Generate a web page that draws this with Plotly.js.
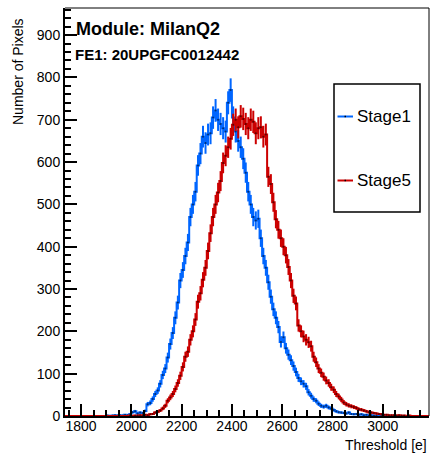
<!DOCTYPE html>
<html>
<head>
<meta charset="utf-8">
<script src="https://cdn.plot.ly/plotly-3.0.1.min.js"></script>
<style>
  html, body { margin: 0; padding: 0; background: #fff; }
  #chart { width: 434px; height: 455px; }
</style>
</head>
<body>
<div id="chart"></div>
<script>
// ---- Data ----
const binWidth = 10;               // histogram bin width [e]
const histLow = 1735;              // first bin centre drawn (zero content)
const histHigh = 3185;             // last bin centre drawn (zero content)

const seriesNames = ["Stage1", "Stage5"];
const seriesColors = ["#0066ff", "#cc0000"];

// Stage1: bin centres starting at 1905, step 10
const stage1Start = 1905;
const stage1 = [
  1, 0, 1, 2, 1, 2, 1, 3, 2, 4,
  9, 11, 6, 8, 7, 12, 28, 31, 40, 52,
  60, 76, 97, 112, 138, 170, 196, 232, 268, 320,
  345, 378, 410, 470, 500, 530, 592, 620, 660, 645,
  665, 668, 705, 722, 700, 690, 680, 672, 740, 770,
  705, 672, 650, 635, 608, 575, 530, 500, 470, 462,
  466, 420, 378, 350, 316, 282, 252, 232, 210, 175,
  186, 160, 145, 132, 118, 104, 90, 82, 76, 70,
  56, 48, 40, 36, 29, 24, 22, 24, 20, 18,
  14, 11, 9, 8, 7, 6, 8, 5, 4, 5,
  3, 4, 2, 3, 1, 2, 1, 1, 0, 1
];

// Stage5: bin centres starting at 1995, step 10
const stage5Start = 1995;
const stage5 = [
  1, 0, 1, 1, 2, 2, 3, 2, 4, 5,
  8, 10, 13, 18, 24, 36, 44, 52, 64, 78,
  95, 116, 140, 152, 180, 200, 228, 270, 290, 322,
  350, 390, 432, 470, 500, 528, 555, 598, 615, 635,
  655, 688, 700, 682, 708, 702, 690, 680, 700, 695,
  668, 680, 682, 660, 665, 565, 548, 505, 465, 440,
  420, 400, 380, 352, 320, 284, 266, 214, 200, 188,
  180, 174, 165, 140, 127, 112, 102, 93, 84, 78,
  68, 62, 52, 46, 39, 32, 28, 25, 23, 21,
  19, 16, 15, 13, 11, 9, 8, 7, 6, 5,
  4, 3, 3, 2, 2, 2, 1, 2, 1, 1,
  0, 1, 0
];

const xTickVals = [1800, 2000, 2200, 2400, 2600, 2800, 3000];
const yTickVals = [0, 100, 200, 300, 400, 500, 600, 700, 800, 900];

const titleText = "Module: MilanQ2";
const subtitleText = "FE1: 20UPGFC0012442";
const xTitle = "Threshold [e]";
const yTitle = "Number of Pixels";

// ---- Build full histograms (empty bins outside the filled region are zero) ----
function buildHist(start, vals) {
  const xs = [], ys = [];
  for (let c = histLow; c <= histHigh + 0.001; c += binWidth) {
    const idx = Math.round((c - start) / binWidth);
    const v = (idx >= 0 && idx < vals.length) ? vals[idx] : 0;
    xs.push(c); ys.push(v);
  }
  return {xs, ys};
}

const FONT = "Liberation Sans, Arial, Helvetica, sans-serif";
const starts = [stage1Start, stage5Start];
const valsList = [stage1, stage5];

const traces = valsList.map((vals, i) => {
  const h = buildHist(starts[i], vals);
  return {
    type: "scatter",
    mode: "lines+markers",
    name: seriesNames[i],
    x: h.xs,
    y: h.ys,
    line: {color: seriesColors[i], width: 2, shape: "hvh"},
    marker: {size: 2, color: h.ys.map(v => v > 0 ? "rgba(0,0,0,0.55)" : "rgba(0,0,0,0)")},
    error_y: {type: "data", array: h.ys.map(v => Math.sqrt(v)), visible: true,
              color: seriesColors[i], thickness: 2, width: 0},
    showlegend: false,
    hoverinfo: "skip"
  };
});

// ---- Manual ROOT-style legend ----
const plotL = 65, plotR = 429, plotT = 8, plotB = 416;
const pw = plotR - plotL, ph = plotB - plotT;
const px = v => (v - plotL) / pw;
const py = v => (plotB - v) / ph;

const legendBox = {x0: 334, x1: 420, y0: 84, y1: 212};
const legendRows = [116.5, 180.5];

const shapes = [
  // frame top and right
  {type: "line", xref: "paper", yref: "paper", x0: 0, x1: 1, y0: 1, y1: 1, line: {color: "#000", width: 1}},
  {type: "line", xref: "paper", yref: "paper", x0: 1, x1: 1, y0: 0, y1: 1, line: {color: "#000", width: 1}},
  // legend box
  {type: "rect", xref: "paper", yref: "paper",
   x0: px(legendBox.x0), x1: px(legendBox.x1), y0: py(legendBox.y1), y1: py(legendBox.y0),
   line: {color: "#000", width: 1.5}, fillcolor: "#fff", layer: "above"}
];
const annotations = [
  {text: "<b>" + titleText + "</b>", xref: "paper", yref: "paper", x: px(74), y: py(29),
   xanchor: "left", yanchor: "middle", showarrow: false, font: {family: FONT, size: 18, color: "#000"}},
  {text: "<b>" + subtitleText + "</b>", xref: "paper", yref: "paper", x: px(73), y: py(54),
   xanchor: "left", yanchor: "middle", showarrow: false, font: {family: FONT, size: 15, color: "#000"}},
  {text: xTitle, xref: "paper", yref: "paper", x: 1, y: py(445),
   xanchor: "right", yanchor: "middle", showarrow: false, font: {family: FONT, size: 14, color: "#000"}},
  {text: yTitle, xref: "paper", yref: "paper", x: px(18), y: py(71), textangle: -90,
   xanchor: "center", yanchor: "middle", showarrow: false, font: {family: FONT, size: 14, color: "#000"}}
];
seriesNames.forEach((n, i) => {
  const yy = legendRows[i];
  shapes.push({type: "line", xref: "paper", yref: "paper", x0: px(337.5), x1: px(353), y0: py(yy), y1: py(yy),
               line: {color: seriesColors[i], width: 2}, layer: "above"});
  shapes.push({type: "rect", xref: "paper", yref: "paper", x0: px(344.5), x1: px(346), y0: py(yy + 0.75), y1: py(yy - 0.75),
               line: {width: 0}, fillcolor: "#000", layer: "above"});
  annotations.push({text: n, xref: "paper", yref: "paper", x: px(355), y: py(yy),
    xanchor: "left", yanchor: "middle", showarrow: false, font: {family: FONT, size: 17, color: "#000"}});
});

const layout = {
  width: 434, height: 455,
  margin: {l: plotL, r: 434 - plotR, t: plotT, b: 455 - plotB, pad: 0},
  paper_bgcolor: "#fff", plot_bgcolor: "#fff",
  font: {family: FONT, size: 14, color: "#000"},
  showlegend: false,
  xaxis: {
    range: [1736, 3184], tickvals: xTickVals, ticktext: xTickVals.map(String),
    ticks: "inside", ticklen: 12, tickwidth: 2, tickcolor: "#000",
    ticklabelstandoff: -4,
    minor: {dtick: 50, tick0: 1800, ticks: "inside", ticklen: 6, tickwidth: 2, tickcolor: "#000", showgrid: false},
    showgrid: false, zeroline: false, showline: true, linecolor: "#000", linewidth: 2,
    tickfont: {family: FONT, size: 14, color: "#000"}
  },
  yaxis: {
    range: [0, 964], tickvals: yTickVals, ticktext: yTickVals.map(String),
    ticks: "inside", ticklen: 12, tickwidth: 2, tickcolor: "#000",
    minor: {dtick: 20, tick0: 0, ticks: "inside", ticklen: 6, tickwidth: 2, tickcolor: "#000", showgrid: false},
    showgrid: false, zeroline: false, showline: true, linecolor: "#000", linewidth: 2,
    tickfont: {family: FONT, size: 14, color: "#000"}
  },
  shapes: shapes,
  annotations: annotations
};

Plotly.newPlot("chart", traces, layout, {displayModeBar: false, staticPlot: true});
</script>
</body>
</html>
